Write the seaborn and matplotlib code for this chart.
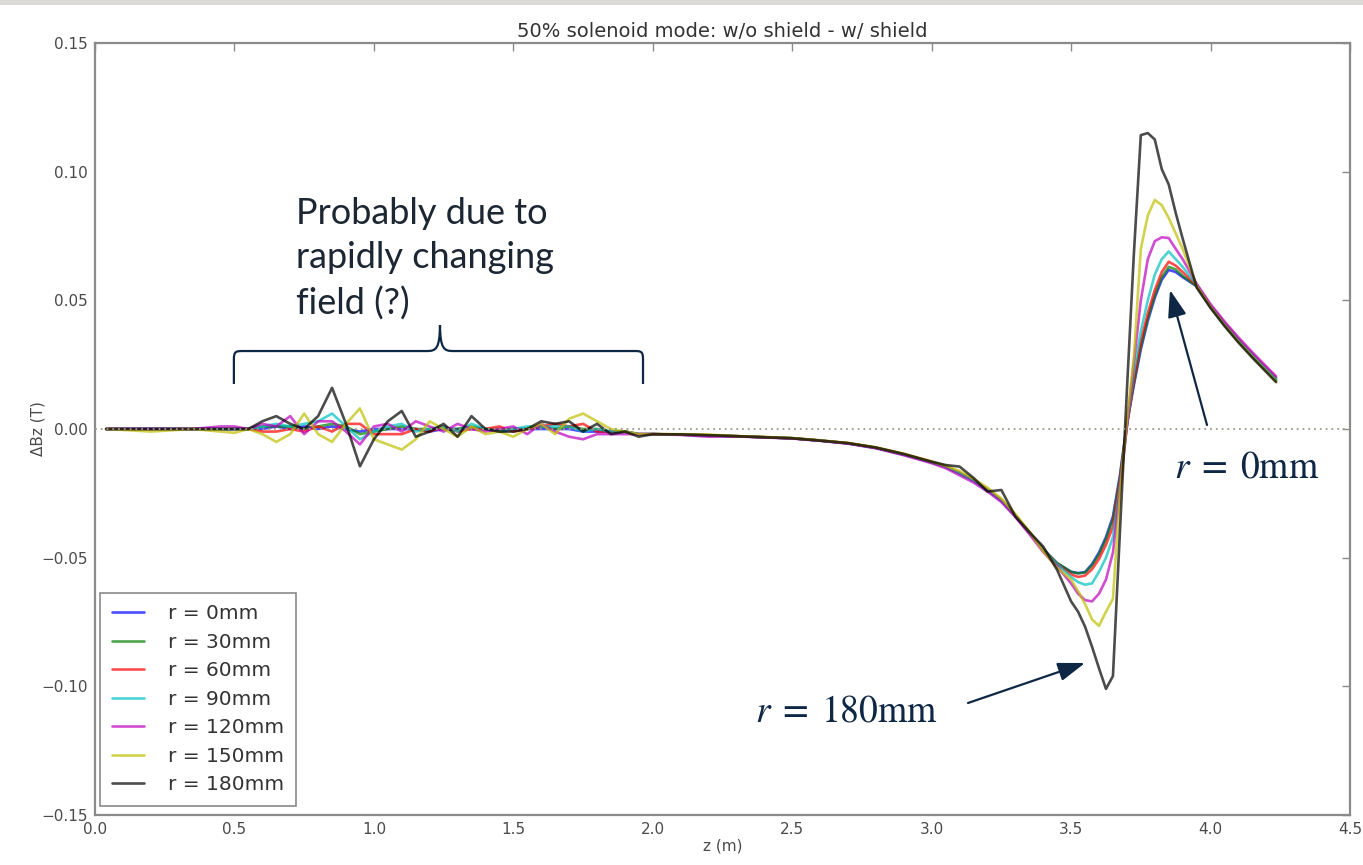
import matplotlib
matplotlib.use("Agg")
import matplotlib.pyplot as plt
import seaborn as sns
import pandas as pd
from matplotlib.path import Path
from matplotlib.patches import PathPatch, Rectangle
from matplotlib.lines import Line2D

# ---------------- data ----------------
z = [0.04, 0.2, 0.35, 0.45,
     0.50, 0.55, 0.60, 0.65, 0.70, 0.75, 0.80, 0.85, 0.90, 0.95, 1.00,
     1.05, 1.10, 1.15, 1.20, 1.25, 1.30, 1.35, 1.40, 1.45, 1.50,
     1.55, 1.60, 1.65, 1.70, 1.75, 1.80, 1.85, 1.90, 1.95, 2.00,
     2.1, 2.2, 2.3, 2.4, 2.5, 2.6, 2.7, 2.8, 2.9, 3.0,
     3.05, 3.10, 3.15, 3.20, 3.25, 3.30, 3.35, 3.40, 3.45,
     3.50, 3.525, 3.55, 3.575, 3.60, 3.625, 3.65, 3.675, 3.70, 3.725,
     3.75, 3.775, 3.80, 3.825, 3.85, 3.875, 3.90,
     3.95, 4.0, 4.05, 4.1, 4.15, 4.2, 4.235]

r0 = [0.000, 0.000, 0.000, 0.000,
      0.000, 0.000, 0.000, 0.001, 0.000, 0.001, 0.000, 0.001, 0.000, -0.001, 0.000,
      0.000, 0.000, 0.000, -0.001, 0.000, 0.000, 0.000, 0.000, -0.001, 0.000,
      0.000, 0.000, 0.000, 0.000, -0.001, -0.001, -0.001, -0.001, -0.002, -0.002,
      -0.0022, -0.0025, -0.0028, -0.0032, -0.0036, -0.0045, -0.0056, -0.0073, -0.0099, -0.0129,
      -0.0147, -0.0172, -0.0200, -0.0236, -0.0278, -0.0337, -0.0402, -0.0468, -0.0522,
      -0.0555, -0.0560, -0.0556, -0.0525, -0.0480, -0.0420, -0.0340, -0.0180, 0.0020, 0.0170,
      0.0310, 0.0420, 0.0510, 0.0580, 0.0618, 0.0610, 0.0590,
      0.0555, 0.0475, 0.0405, 0.0342, 0.0283, 0.0228, 0.0190]

r30 = [0.000, 0.000, 0.000, 0.000,
       0.000, 0.000, 0.001, 0.001, 0.001, 0.000, 0.001, 0.002, 0.001, -0.002, -0.001,
       0.000, 0.001, 0.000, 0.000, 0.000, 0.000, 0.001, 0.000, 0.000, 0.000,
       0.000, 0.001, 0.000, 0.001, 0.000, 0.000, -0.001, -0.001, -0.002, -0.002,
       -0.0022, -0.0025, -0.0028, -0.0032, -0.0036, -0.0045, -0.0055, -0.0073, -0.0099, -0.0129,
       -0.0147, -0.0171, -0.0200, -0.0236, -0.0277, -0.0336, -0.0401, -0.0467, -0.0521,
       -0.0555, -0.0561, -0.0558, -0.0530, -0.0488, -0.0428, -0.0350, -0.0190, 0.0020, 0.0180,
       0.0320, 0.0430, 0.0520, 0.0590, 0.0630, 0.0620, 0.0595,
       0.0555, 0.0476, 0.0406, 0.0343, 0.0284, 0.0229, 0.0191]

r60 = [0.000, 0.000, 0.000, 0.000,
       0.000, 0.000, -0.001, -0.001, 0.000, -0.001, 0.001, -0.001, 0.002, 0.002, -0.002,
       -0.002, -0.002, 0.000, -0.001, 0.001, -0.001, 0.000, 0.000, 0.001, -0.001,
       0.000, 0.001, 0.002, 0.001, 0.002, -0.001, -0.001, -0.001, -0.002, -0.002,
       -0.0021, -0.0024, -0.0028, -0.0032, -0.0036, -0.0045, -0.0055, -0.0073, -0.0098, -0.0128,
       -0.0146, -0.0171, -0.0199, -0.0235, -0.0277, -0.0336, -0.0401, -0.0468, -0.0525,
       -0.0565, -0.0575, -0.0570, -0.0545, -0.0505, -0.0450, -0.0380, -0.0200, 0.0010, 0.0190,
       0.0340, 0.0450, 0.0540, 0.0610, 0.0650, 0.0635, 0.0610,
       0.0558, 0.0480, 0.0412, 0.0350, 0.0292, 0.0237, 0.0199]

r90 = [0.000, 0.000, 0.000, 0.000,
       0.000, 0.000, 0.001, 0.002, 0.001, 0.002, 0.003, 0.006, 0.001, -0.004, -0.001,
       0.001, 0.002, -0.001, 0.000, 0.001, -0.001, 0.002, 0.000, -0.001, 0.000,
       0.001, 0.001, 0.001, 0.001, -0.001, 0.000, -0.001, -0.001, -0.002, -0.002,
       -0.0022, -0.0025, -0.0028, -0.0032, -0.0036, -0.0045, -0.0056, -0.0074, -0.0100, -0.0130,
       -0.0148, -0.0173, -0.0202, -0.0238, -0.0280, -0.0338, -0.0403, -0.0470, -0.0525,
       -0.0575, -0.0595, -0.0605, -0.0600, -0.0555, -0.0500, -0.0420, -0.0220, 0.0010, 0.0220,
       0.0380, 0.0500, 0.0600, 0.0660, 0.0690, 0.0660, 0.0630,
       0.0560, 0.0478, 0.0410, 0.0347, 0.0289, 0.0234, 0.0196]

r120 = [0.000, 0.000, 0.000, 0.001,
        0.001, 0.000, 0.002, 0.001, 0.005, -0.002, 0.003, 0.003, -0.001, -0.006, 0.001,
        0.002, -0.001, 0.003, 0.001, -0.001, 0.002, 0.000, -0.001, 0.000, 0.001,
        -0.002, 0.002, -0.001, -0.003, -0.004, -0.002, -0.002, -0.002, -0.002, -0.002,
        -0.0023, -0.0030, -0.0029, -0.0033, -0.0037, -0.0046, -0.0057, -0.0075, -0.0102, -0.0133,
        -0.0152, -0.0180, -0.0208, -0.0243, -0.0284, -0.0342, -0.0408, -0.0478, -0.0535,
        -0.0600, -0.0640, -0.0665, -0.0670, -0.0640, -0.0585, -0.0480, -0.0240, 0.0010, 0.0260,
        0.0500, 0.0660, 0.0730, 0.0745, 0.0742, 0.0700, 0.0660,
        0.0565, 0.0485, 0.0418, 0.0356, 0.0298, 0.0243, 0.0205]

r150 = [0.000, -0.001, 0.000, -0.001,
        -0.0015, 0.000, -0.002, -0.005, -0.002, 0.006, -0.002, -0.005, 0.002, 0.008, -0.004,
        -0.006, -0.008, -0.004, 0.003, 0.000, -0.003, 0.001, -0.002, -0.001, -0.003,
        0.000, 0.002, -0.002, 0.004, 0.006, 0.003, 0.000, -0.001, -0.002, -0.002,
        -0.0020, -0.0022, -0.0027, -0.0031, -0.0035, -0.0044, -0.0054, -0.0071, -0.0096, -0.0126,
        -0.0143, -0.0163, -0.0193, -0.0228, -0.0270, -0.0330, -0.0398, -0.0475, -0.0540,
        -0.0585, -0.0630, -0.0680, -0.0740, -0.0765, -0.0710, -0.0660, -0.0250, 0.0030, 0.0280,
        0.0700, 0.0830, 0.0890, 0.0870, 0.0820, 0.0760, 0.0700,
        0.0556, 0.0474, 0.0403, 0.0339, 0.0280, 0.0224, 0.0185]

r180 = [0.000, 0.000, 0.000, 0.000,
        0.000, 0.000, 0.003, 0.005, 0.002, 0.000, 0.005, 0.016, 0.002, -0.0145, -0.004,
        0.003, 0.007, -0.003, -0.001, 0.002, -0.003, 0.005, 0.000, -0.001, -0.001,
        0.000, 0.003, 0.002, 0.003, -0.001, 0.002, -0.002, -0.001, -0.003, -0.002,
        -0.0021, -0.0024, -0.0028, -0.0032, -0.0036, -0.0045, -0.0055, -0.0072, -0.0097, -0.0127,
        -0.0140, -0.0146, -0.0190, -0.0243, -0.0237, -0.0340, -0.0400, -0.0457, -0.0548,
        -0.0670, -0.0710, -0.0768, -0.0846, -0.0930, -0.1010, -0.0960, -0.0400, 0.0150, 0.0680,
        0.1142, 0.1150, 0.1125, 0.1010, 0.0950, 0.0840, 0.0740,
        0.0550, 0.0470, 0.0400, 0.0336, 0.0277, 0.0221, 0.0182]

labels = ["r = 0mm", "r = 30mm", "r = 60mm", "r = 90mm",
          "r = 120mm", "r = 150mm", "r = 180mm"]
series = [r0, r30, r60, r90, r120, r150, r180]
colors = ["#0000ff", "#008000", "#ff0000", "#00bfbf", "#bf00bf", "#bfbf00", "#000000"]

xticks = [0.0, 0.5, 1.0, 1.5, 2.0, 2.5, 3.0, 3.5, 4.0, 4.5]
yticks = [-0.15, -0.10, -0.05, 0.00, 0.05, 0.10, 0.15]

# ---------------- figure ----------------
sns.set_style("white")
plt.rcParams["font.family"] = ["DejaVu Sans"]
plt.rcParams["mathtext.fontset"] = "stix"

W, H = 1363, 865
fig = plt.figure(figsize=(W / 100, H / 100), dpi=100)
fig.patch.set_facecolor("white")
fig.patches.append(Rectangle((0, 1 - 5 / H), 1, 5 / H, transform=fig.transFigure,
                             facecolor="#dddbd5", edgecolor="none"))

ax = fig.add_axes([95 / W, 50 / H, 1255 / W, 772 / H])

df = pd.DataFrame({
    "z": [v for _ in labels for v in z],
    "dBz": [v for s in series for v in s],
    "r": [lab for lab in labels for _ in z],
})

sns.lineplot(data=df, x="z", y="dBz", hue="r", hue_order=labels,
             palette=dict(zip(labels, colors)), estimator=None, sort=False,
             lw=1.9, alpha=0.7, ax=ax, legend=False)

ax.axhline(0, color="#a09a88", lw=1.3, ls=(0, (1, 2.2)), zorder=5)

ax.set_xlim(0, 4.5)
ax.set_ylim(-0.15, 0.15)
ax.set_xticks(xticks)
ax.set_yticks(yticks)
ax.tick_params(direction="in", length=6, width=1, top=True, right=True,
               color="#8a8a8a", labelcolor="#4a4a4a", labelsize=11, pad=5)
for sp in ax.spines.values():
    sp.set_color("#8a8a8a")
    sp.set_linewidth(1.6)

ax.set_xlabel("z (m)", fontsize=11, color="#4a4a4a", labelpad=1)
ax.set_ylabel("\u0394Bz (T)", fontsize=11, color="#4a4a4a", labelpad=-3)
ax.set_title("50% solenoid mode: w/o shield - w/ shield", fontsize=14,
             color="#333333", pad=4)

handles = [Line2D([], [], color=c, lw=1.9, alpha=0.7) for c in colors]
leg = ax.legend(handles, labels, loc="lower left", bbox_to_anchor=(0.004, 0.012),
                borderaxespad=0, fontsize=14.5, handlelength=1.6, handletextpad=1.2,
                labelspacing=0.47, borderpad=0.58, fancybox=False, framealpha=1)
leg.get_frame().set_edgecolor("#8a8a8a")
leg.get_frame().set_linewidth(1.2)
for t in leg.get_texts():
    t.set_color("#333333")

# ---------------- annotations ----------------
navy = "#0e2745"

def F(x, y):
    return (x / W, 1 - y / H)

fig.text(*F(296, 197), "Probably due to\nrapidly changing\nfield (?)",
         ha="left", va="top", fontsize=26, family="Lato", color="#1c2733",
         linespacing=1.42)

verts = [(0.498, 0.0175), (0.498, 0.027),
         (0.498, 0.0303), (0.505, 0.0303), (0.535, 0.0303),
         (1.19, 0.0303),
         (1.222, 0.0303), (1.236, 0.031), (1.237, 0.0404),
         (1.238, 0.031), (1.252, 0.0303), (1.284, 0.0303),
         (1.93, 0.0303),
         (1.958, 0.0303), (1.965, 0.0303), (1.965, 0.027),
         (1.965, 0.0175)]
codes = [Path.MOVETO, Path.LINETO,
         Path.CURVE4, Path.CURVE4, Path.CURVE4,
         Path.LINETO,
         Path.CURVE4, Path.CURVE4, Path.CURVE4,
         Path.CURVE4, Path.CURVE4, Path.CURVE4,
         Path.LINETO,
         Path.CURVE4, Path.CURVE4, Path.CURVE4,
         Path.LINETO]
ax.add_patch(PathPatch(Path(verts, codes), facecolor="none", edgecolor=navy,
                       lw=1.6, clip_on=False, zorder=6))

fig.text(*F(1247, 468), r"$r\;=\;0\mathrm{mm}$", ha="center", va="center",
         fontsize=27, color=navy)
fig.text(*F(846, 712), r"$r\;=\;180\mathrm{mm}$", ha="center", va="center",
         fontsize=27, color=navy)

arrow_kw = dict(arrowstyle="-|>,head_length=1.1,head_width=0.38", color=navy,
                lw=1.6, shrinkA=0, shrinkB=0, mutation_scale=15)
ax.annotate("", xy=F(1170, 290), xytext=F(1207, 425), xycoords="figure fraction",
            textcoords="figure fraction", arrowprops=arrow_kw)
ax.annotate("", xy=F(1085, 663), xytext=F(968, 703), xycoords="figure fraction",
            textcoords="figure fraction", arrowprops=arrow_kw)

fig.savefig("out.png", dpi=100, facecolor="white")
